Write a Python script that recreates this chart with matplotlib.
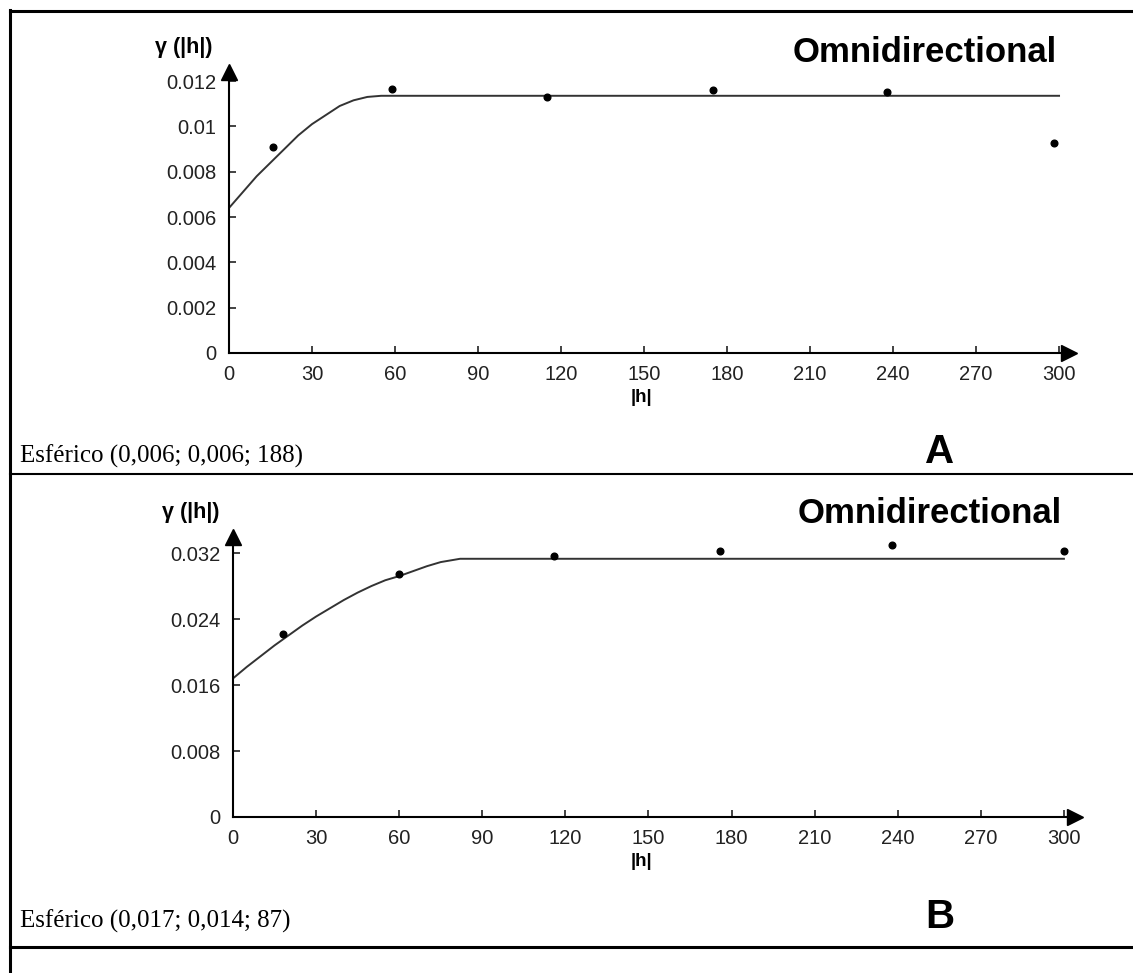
import matplotlib
matplotlib.use('Agg')
import matplotlib.pyplot as plt
from matplotlib.lines import Line2D

lag_a = [16, 59, 115, 175, 238, 298]
gamma_a = [0.0091, 0.01166, 0.0113, 0.01161, 0.01152, 0.00927]
model_a_x = [0, 5, 10, 15, 20, 25, 30, 35, 40, 45, 50, 55, 300]
model_a_y = [0.0064, 0.0071, 0.0078, 0.0084, 0.0090, 0.0096, 0.0101, 0.0105,
             0.0109, 0.01115, 0.0113, 0.01135, 0.01135]

lag_b = [18, 60, 116, 176, 238, 300]
gamma_b = [0.0222, 0.02945, 0.0316, 0.03224, 0.03297, 0.0322]
model_b_x = [0, 5, 10, 15, 20, 25, 30, 35, 40, 45, 50, 55, 60, 65, 70, 75, 82, 300]
model_b_y = [0.0168, 0.0182, 0.0195, 0.0208, 0.0220, 0.0232, 0.0243, 0.0253, 0.0263,
             0.0272, 0.0280, 0.0287, 0.0292, 0.0298, 0.0304, 0.0309, 0.0313, 0.0313]

xticks = [0, 30, 60, 90, 120, 150, 180, 210, 240, 270, 300]
yticks_a = [0, 0.002, 0.004, 0.006, 0.008, 0.01, 0.012]
ytick_labels_a = ['0', '0.002', '0.004', '0.006', '0.008', '0.01', '0.012']
yticks_b = [0, 0.008, 0.016, 0.024, 0.032]
ytick_labels_b = ['0', '0.008', '0.016', '0.024', '0.032']

captions = ['Esférico (0,006; 0,006; 188)', 'Esférico (0,017; 0,014; 87)']

W, H = 1133, 973
plt.rcParams['font.family'] = ['Liberation Sans', 'DejaVu Sans']
fig = plt.figure(figsize=(W / 100, H / 100), dpi=100)


def fx(x):
    return x / W


def fy(y):
    return 1 - y / H


def make_axes(left, right, bottom, top, xmax, ymax):
    ax = fig.add_axes([fx(left), fy(bottom), (right - left) / W, (bottom - top) / H])
    ax.set_xlim(0, xmax)
    ax.set_ylim(0, ymax)
    for s in ['top', 'right']:
        ax.spines[s].set_visible(False)
    for s in ['left', 'bottom']:
        ax.spines[s].set_linewidth(1.5)
    ax.tick_params(direction='in', length=5, width=1.2, labelsize=14.5, colors='#222222')
    ax.tick_params(axis='x', pad=9)
    ax.tick_params(axis='y', pad=9)
    ax.plot([1], [0], marker='>', ms=11, color='black', transform=ax.transAxes, clip_on=False)
    ax.plot([0], [1], marker='^', ms=11, color='black', transform=ax.transAxes, clip_on=False)
    return ax


# panel A
ax1 = make_axes(229, 1069, 353, 72, 303.6, 0.0124)
ax1.plot(model_a_x, model_a_y, color='#333333', lw=1.4)
ax1.plot(lag_a, gamma_a, 'o', color='black', ms=4.8)
ax1.set_xticks(xticks)
ax1.set_yticks(yticks_a)
ax1.set_yticklabels(ytick_labels_a)

# panel B
ax2 = make_axes(233, 1075, 817, 537, 304, 0.03394)
ax2.plot(model_b_x, model_b_y, color='#333333', lw=1.4)
ax2.plot(lag_b, gamma_b, 'o', color='black', ms=4.8)
ax2.set_xticks(xticks)
ax2.set_yticks(yticks_b)
ax2.set_yticklabels(ytick_labels_b)

# texts
for ylab_x, ylab_y, xlab_y, title_x, title_y, cap_y, letter in [
        (213, 53, 402, 1057, 62, 463, 'A'),
        (219, 518, 866, 1062, 523, 928, 'B')]:
    fig.text(fx(ylab_x), fy(ylab_y), 'γ (|h|)', ha='right', va='baseline',
             fontsize=15.5, fontweight='bold')
    fig.text(fx(641), fy(xlab_y), '|h|', ha='center', va='baseline',
             fontsize=13.5, fontweight='bold')
    fig.text(fx(title_x), fy(title_y), 'Omnidirectional', ha='right', va='baseline',
             fontsize=25, fontweight='bold')
    fig.text(fx(940), fy(cap_y), letter, ha='center', va='baseline',
             fontsize=29, fontweight='bold')

fig.text(fx(20), fy(463), captions[0], ha='left', va='baseline',
         fontsize=18, family='Liberation Serif')
fig.text(fx(20), fy(928), captions[1], ha='left', va='baseline',
         fontsize=18, family='Liberation Serif')

# table borders
fig.add_artist(Line2D([fx(10), 1], [fy(10.5), fy(10.5)], color='black', lw=2.2))
fig.add_artist(Line2D([fx(10.5), fx(10.5)], [fy(10), 0], color='black', lw=2.2))
fig.add_artist(Line2D([fx(10), 1], [fy(474), fy(474)], color='black', lw=1.5))
fig.add_artist(Line2D([fx(10), 1], [fy(947), fy(947)], color='black', lw=2.2))

plt.savefig('out.png', dpi=100)
